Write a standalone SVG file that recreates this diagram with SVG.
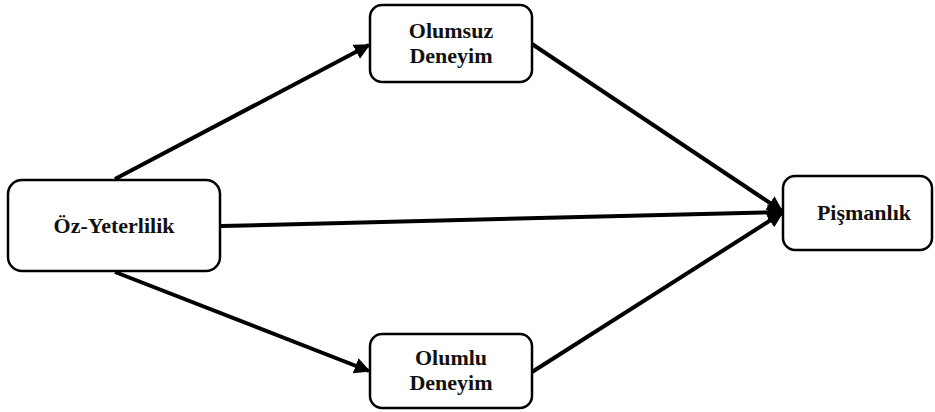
<svg xmlns="http://www.w3.org/2000/svg" width="935" height="412" viewBox="0 0 935 412">
<defs>
<style>
.box{fill:#fff;stroke:#000;stroke-width:2.5}
.lbl{font-family:"Liberation Serif","Times New Roman",serif;font-weight:bold;font-size:22px;fill:#111;text-anchor:middle}
.con{stroke:#000;stroke-width:4;fill:none;marker-end:url(#ah)}
</style>
<marker id="ah" viewBox="0 0 10 10" refX="9" refY="5" markerWidth="4" markerHeight="4" markerUnits="strokeWidth" orient="auto">
<path d="M0,0 L10,5 L0,10 z" fill="#000"/>
</marker>
</defs>
<g id="connectors">
<line class="con" x1="115" y1="179" x2="369" y2="45"/>
<line class="con" x1="115" y1="272" x2="369" y2="371"/>
<line class="con" x1="221" y1="226" x2="782" y2="212"/>
<line class="con" x1="532" y1="44" x2="782" y2="211"/>
<line class="con" x1="532" y1="372" x2="782" y2="213"/>
</g>
<g id="oz">
<rect class="box" x="8" y="180" width="212" height="91" rx="14"/>
<text class="lbl" x="114" y="233">Öz-Yeterlilik</text>
</g>
<g id="olumsuz">
<rect class="box" x="370" y="5" width="162" height="77" rx="12"/>
<text class="lbl" x="451" y="38">Olumsuz</text>
<text class="lbl" x="451" y="63">Deneyim</text>
</g>
<g id="olumlu">
<rect class="box" x="370" y="334" width="162" height="74" rx="12"/>
<text class="lbl" x="451" y="365">Olumlu</text>
<text class="lbl" x="451" y="390">Deneyim</text>
</g>
<g id="pismanlik">
<rect class="box" x="783" y="176" width="149" height="74" rx="12"/>
<text class="lbl" x="864" y="220">Pişmanlık</text>
</g>
</svg>
